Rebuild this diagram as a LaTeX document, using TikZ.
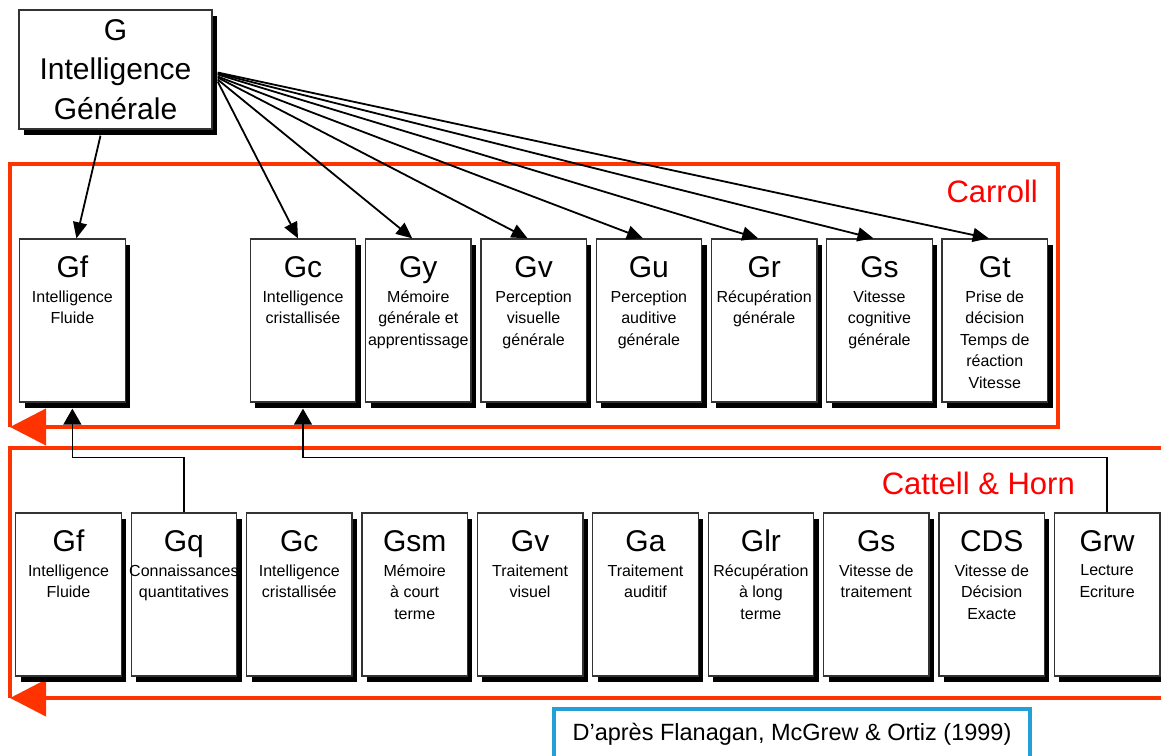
\documentclass[tikz,border=0pt]{standalone}
\usepackage{fontspec}
\setmainfont{Liberation Sans}
\usetikzlibrary{arrows.meta,shadows}
\definecolor{cadre}{RGB}{255,51,0}
\definecolor{citebleu}{RGB}{35,160,215}
\begin{document}
\begin{tikzpicture}[x=1pt,y=-1pt]
    \tikzstyle{every node}=[font=\fontsize{16}{21.5}\selectfont]
    \tikzstyle{box}=[draw=black!80,line width=1.3pt,fill=white,minimum width=105.5pt,minimum height=163pt,inner sep=0pt,drop shadow={shadow xshift=5pt,shadow yshift=-6pt,opacity=1,fill=black}]
    \tikzstyle{ttl}=[anchor=base,yshift=-39pt,inner sep=0pt,font=\fontsize{30}{32}\selectfont]
    \tikzstyle{dsc}=[anchor=north,yshift=-52pt,inner sep=0pt,align=center]
    \tikzstyle{arr}=[line width=1.8pt,-{Triangle[length=16pt,width=14pt]}]
    \tikzstyle{uparr}=[line width=1.4pt,-{Triangle[length=16pt,width=18pt]}]
    \tikzstyle{frame}=[draw=cadre,line width=4.2pt,-{Triangle[length=36pt,width=36pt]}]
    \useasboundingbox (0,0) rectangle (1161,755);
    %%% frames
    % Carroll
    \draw[frame] (10,427) -- (10,164) -- (1058,164) -- (1058,427) -- (10,427);
    \node at (1038,202) [anchor=base east,inner sep=0pt,text=red,font=\fontsize{31}{33}\selectfont] (carroll) {Carroll};
    % Cattell & Horn
    \draw[frame] (1165,448) -- (10,448) -- (10,698) (1165,698) -- (10,698);
    \node at (1075,494) [anchor=base east,inner sep=0pt,text=red,font=\fontsize{31}{33}\selectfont] (cattell) {Cattell \& Horn};
    %%% G
    \node at (115.5,69.5) [box,minimum width=193pt,minimum height=119pt,align=center,font=\fontsize{30}{39.5}\selectfont] (G) {G\\Intelligence\\Générale};
    %%% Carroll row
    \node at (72.4,320.5) [box,label={[ttl]north:Gf},label={[dsc]north:Intelligence\\Fluide}] (cGf) {};
    \node at (303,320.5) [box,label={[ttl]north:Gc},label={[dsc]north:Intelligence\\cristallisée}] (cGc) {};
    \node at (418.3,320.5) [box,label={[ttl]north:Gy},label={[dsc]north:Mémoire\\générale et\\apprentissage}] (cGy) {};
    \node at (533.6,320.5) [box,label={[ttl]north:Gv},label={[dsc]north:Perception\\visuelle\\générale}] (cGv) {};
    \node at (648.9,320.5) [box,label={[ttl]north:Gu},label={[dsc]north:Perception\\auditive\\générale}] (cGu) {};
    \node at (764.2,320.5) [box,label={[ttl]north:Gr},label={[dsc]north:Récupération\\générale}] (cGr) {};
    \node at (879.5,320.5) [box,label={[ttl]north:Gs},label={[dsc]north:Vitesse\\cognitive\\générale}] (cGs) {};
    \node at (994.8,320.5) [box,label={[ttl]north:Gt},label={[dsc]north:Prise de\\décision\\Temps de\\réaction\\Vitesse}] (cGt) {};
    %%% Cattell & Horn row
    \node at (68.5,594.5) [box,label={[ttl]north:Gf},label={[dsc]north:Intelligence\\Fluide}] (hGf) {};
    \node at (183.9,594.5) [box,label={[ttl]north:Gq},label={[dsc]north:Connaissances\\quantitatives}] (hGq) {};
    \node at (299.3,594.5) [box,label={[ttl]north:Gc},label={[dsc]north:Intelligence\\cristallisée}] (hGc) {};
    \node at (414.7,594.5) [box,label={[ttl]north:Gsm},label={[dsc]north:Mémoire\\à court\\terme}] (hGsm) {};
    \node at (530.1,594.5) [box,label={[ttl]north:Gv},label={[dsc]north:Traitement\\visuel}] (hGv) {};
    \node at (645.5,594.5) [box,label={[ttl]north:Ga},label={[dsc]north:Traitement\\auditif}] (hGa) {};
    \node at (760.9,594.5) [box,label={[ttl]north:Glr},label={[dsc]north:Récupération\\à long\\terme}] (hGlr) {};
    \node at (876.3,594.5) [box,label={[ttl]north:Gs},label={[dsc]north:Vitesse de\\traitement}] (hGs) {};
    \node at (991.7,594.5) [box,label={[ttl]north:CDS},label={[dsc]north:Vitesse de\\Décision\\Exacte}] (hCDS) {};
    \node at (1107.1,594.5) [box,label={[ttl]north:Grw},label={[dsc]north:Lecture\\Ecriture}] (hGrw) {};
    %%% source
    \node at (792,734) [draw=citebleu,line width=4pt,minimum width=476pt,minimum height=50pt,font=\fontsize{23.5}{26}\selectfont] (source) {D’après Flanagan, McGrew \& Ortiz (1999)};

    \path
    ([xshift=-15pt,yshift=-6pt]G.south) edge [arr] ([xshift=4pt]cGf.north)
    ([xshift=5pt,yshift=-12pt]G.east) edge [arr] ([xshift=-5pt]cGc.north)
    ([xshift=5pt,yshift=-10pt]G.east) edge [arr] ([xshift=-6pt]cGy.north)
    ([xshift=5pt,yshift=-8pt]G.east) edge [arr] ([xshift=-6pt]cGv.north)
    ([xshift=5pt,yshift=-7pt]G.east) edge [arr] ([xshift=-6pt]cGu.north)
    ([xshift=5pt,yshift=-5pt]G.east) edge [arr] ([xshift=-6pt]cGr.north)
    ([xshift=5pt,yshift=-4pt]G.east) edge [arr] ([xshift=-6pt]cGs.north)
    ([xshift=5pt,yshift=-3pt]G.east) edge [arr] ([xshift=-6pt]cGt.north);
    \draw[uparr] (hGq.north) -- ++(0,-55) -| ([yshift=-6pt]cGf.south);
    \draw[uparr] (hGrw.north) -- ++(0,-55) -| ([yshift=-6pt]cGc.south);
\end{tikzpicture}
\end{document}
